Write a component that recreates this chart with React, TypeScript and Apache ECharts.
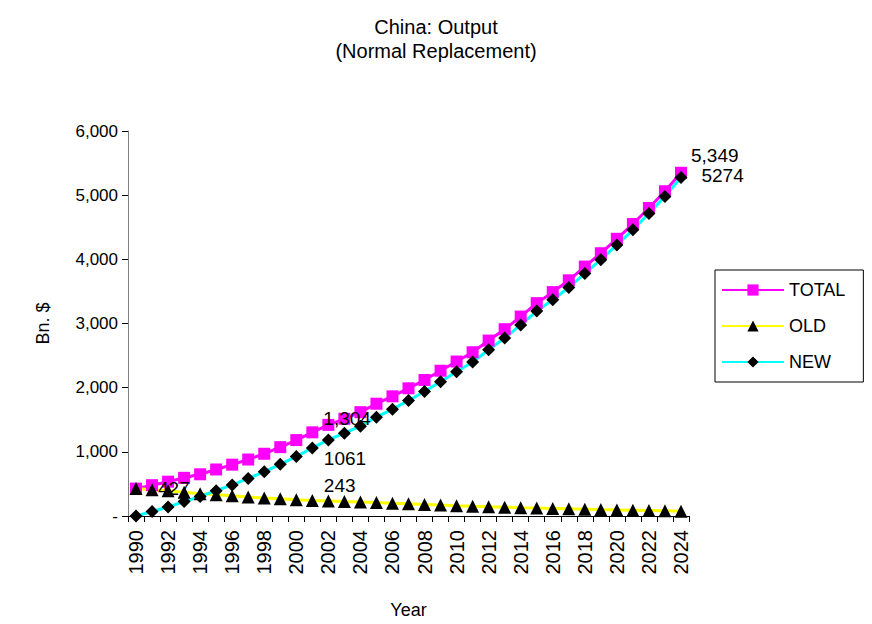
import { useEffect, useRef } from "react";
import * as echarts from "echarts";

const years = [
  "1990", "1991", "1992", "1993", "1994", "1995", "1996", "1997", "1998", "1999",
  "2000", "2001", "2002", "2003", "2004", "2005", "2006", "2007", "2008", "2009",
  "2010", "2011", "2012", "2013", "2014", "2015", "2016", "2017", "2018", "2019",
  "2020", "2021", "2022", "2023", "2024",
];

const totalOutput = [
  427, 480, 535, 595, 650, 725, 800, 880, 970, 1073,
  1183, 1304, 1420, 1515, 1618, 1750, 1865, 1990, 2120, 2264,
  2407, 2552, 2734, 2911, 3108, 3317, 3489, 3673, 3887, 4095,
  4320, 4550, 4801, 5061, 5349,
];

const oldOutput = [
  427, 410, 395, 370, 345, 330, 315, 295, 280, 268,
  255, 243, 235, 225, 218, 210, 200, 190, 180, 170,
  160, 152, 145, 138, 130, 124, 118, 112, 106, 100,
  95, 90, 85, 80, 75,
];

const newOutput = [
  0, 70, 140, 225, 305, 395, 485, 585, 690, 805,
  928, 1061, 1185, 1290, 1400, 1540, 1665, 1800, 1940, 2094,
  2247, 2400, 2589, 2773, 2978, 3193, 3371, 3561, 3781, 3995,
  4225, 4460, 4716, 4981, 5274,
];

const yTicks = [0, 1000, 2000, 3000, 4000, 5000, 6000];

const FONT = "'Liberation Sans', Arial, sans-serif";

type LabelSpec = { offset: [number, number]; comma: boolean };

// Attach a value label to selected points of a series
function withLabels(values: number[], specs: Record<number, LabelSpec>) {
  return values.map((v, i) => {
    const s = specs[i];
    if (!s) return v;
    return {
      value: v,
      label: {
        show: true,
        position: "right",
        distance: 5,
        offset: s.offset,
        color: "#000",
        fontFamily: FONT,
        fontSize: 19,
        formatter: () => (s.comma ? v.toLocaleString("en-US") : String(v)),
      },
    };
  });
}

export default function App() {
  const ref = useRef<HTMLDivElement>(null);

  useEffect(() => {
    if (!ref.current) return;
    const chart = echarts.init(ref.current, undefined, { renderer: "svg" });

    const last = years.length - 1;
    const mid = years.indexOf("2001");

    chart.setOption({
      animation: false,
      backgroundColor: "#fff",
      title: {
        text: "China: Output\n(Normal Replacement)",
        left: "center",
        top: 10,
        textStyle: {
          fontFamily: FONT,
          fontSize: 20,
          fontWeight: "normal",
          color: "#000",
          lineHeight: 24,
        },
      },
      legend: {
        orient: "vertical",
        left: 715,
        top: 270,
        padding: [11, 18, 11, 6],
        itemGap: 18,
        itemWidth: 62,
        itemHeight: 14,
        borderColor: "#000",
        borderWidth: 1,
        borderRadius: 0,
        textStyle: { fontFamily: FONT, fontSize: 18, color: "#000" },
        data: ["TOTAL", "OLD", "NEW"],
      },
      grid: { left: 128, right: 183, top: 131, bottom: 103 },
      xAxis: {
        type: "category",
        data: years,
        boundaryGap: true,
        name: "Year",
        nameLocation: "middle",
        nameGap: 85,
        nameTextStyle: { fontFamily: FONT, fontSize: 18, color: "#000" },
        axisLine: { lineStyle: { color: "#000", width: 1 } },
        axisTick: { show: true, interval: 0, length: 6, lineStyle: { color: "#000" } },
        axisLabel: {
          interval: 1,
          rotate: 90,
          margin: 14,
          fontFamily: FONT,
          fontSize: 20,
          color: "#000",
        },
        splitLine: { show: false },
      },
      yAxis: {
        type: "value",
        min: yTicks[0],
        max: yTicks[yTicks.length - 1],
        interval: 1000,
        name: "Bn. $",
        nameLocation: "middle",
        nameRotate: 90,
        nameGap: 76,
        nameTextStyle: { fontFamily: FONT, fontSize: 18, color: "#000" },
        axisLine: { show: true, lineStyle: { color: "#808080", width: 1 } },
        axisTick: { show: true, length: 6, lineStyle: { color: "#000" } },
        axisLabel: {
          margin: 10,
          fontFamily: FONT,
          fontSize: 17,
          color: "#000",
          formatter: (v: number) => (v === 0 ? "-" : v.toLocaleString("en-US")),
        },
        splitLine: { show: false },
      },
      series: [
        {
          name: "TOTAL",
          type: "line",
          data: withLabels(totalOutput, {
            0: { offset: [11, 0], comma: true },
            [mid]: { offset: [0, -14], comma: true },
            [last]: { offset: [-1, -17], comma: true },
          }),
          symbol: "rect",
          symbolSize: 12,
          showAllSymbol: true,
          lineStyle: { color: "#FF00FF", width: 3 },
          itemStyle: { color: "#FF00FF" },
        },
        {
          name: "OLD",
          type: "line",
          data: withLabels(oldOutput, {
            [mid]: { offset: [0, -15], comma: false },
          }),
          symbol: "triangle",
          symbolSize: 13,
          showAllSymbol: true,
          lineStyle: { color: "#FFFF00", width: 3 },
          itemStyle: { color: "#000" },
        },
        {
          name: "NEW",
          type: "line",
          data: withLabels(newOutput, {
            [mid]: { offset: [0, 11], comma: false },
            [last]: { offset: [9, -2], comma: false },
          }),
          symbol: "diamond",
          symbolSize: 13,
          showAllSymbol: true,
          lineStyle: { color: "#00FFFF", width: 3 },
          itemStyle: { color: "#000" },
        },
      ],
    });

    return () => chart.dispose();
  }, []);

  return (
    <div
      ref={ref}
      style={{ position: "fixed", left: 0, top: 0, width: 872, height: 624 }}
    />
  );
}
